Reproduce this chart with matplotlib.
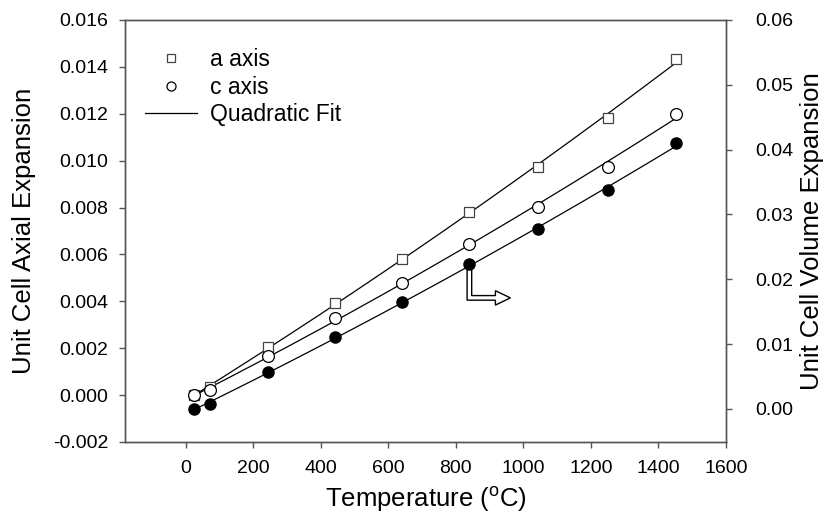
import matplotlib
matplotlib.use("Agg")
import matplotlib.pyplot as plt
import numpy as np
from matplotlib.lines import Line2D
from matplotlib.patches import Polygon
from matplotlib.transforms import Affine2D, ScaledTranslation

plt.rcParams['font.family'] = ['Liberation Sans', 'DejaVu Sans']
plt.rcParams['mathtext.fontset'] = 'custom'
plt.rcParams['mathtext.rm'] = 'Liberation Sans'

# data
temp = np.array([25, 73, 245, 442, 640, 840, 1042, 1251, 1452])
a_axis = np.array([0.0000, 0.00035, 0.00204, 0.00394, 0.00582, 0.00781, 0.00975, 0.01184, 0.01432])
c_axis = np.array([0.0000, 0.00020, 0.00168, 0.00330, 0.00480, 0.00643, 0.00804, 0.00975, 0.01200])
volume = np.array([0.0000, 0.0008, 0.0057, 0.0111, 0.0165, 0.0223, 0.0277, 0.0337, 0.0410])

x_ticks = np.arange(0, 1601, 200)
left_ticks = np.arange(-0.002, 0.0161, 0.002)
right_ticks = np.arange(0.0, 0.061, 0.01)

W, H = 826, 526
fig = plt.figure(figsize=(W / 100, H / 100), dpi=100)
ax = fig.add_axes([125 / W, 1 - 442 / H, (726 - 125) / W, (442 - 20) / H])
ax2 = ax.twinx()

spine_col = '#555555'
fs_tick = 14
fs_lab = 18.5
fs_leg = 16.5

def quad_fit(x, y):
    p = np.polyfit(x, y, 2)
    xs = np.linspace(x.min(), x.max(), 200)
    return xs, np.polyval(p, xs)

# fitted curves
for y in (a_axis, c_axis):
    xs, ys = quad_fit(temp, y)
    ax.plot(xs, ys, color='black', lw=0.9, zorder=2)
xs, ys = quad_fit(temp, volume)
ax2.plot(xs, ys, color='black', lw=0.9, zorder=2)

# points
ax.plot(temp, a_axis, ls='none', marker='s', ms=7.5, mfc='white', mec='#444444', mew=0.9, zorder=3)
ax.plot(temp, c_axis, ls='none', marker='o', ms=8.5, mfc='white', mec='black', mew=0.9, zorder=3)
ax2.plot(temp, volume, ls='none', marker='o', ms=8, mfc='black', mec='black', zorder=4)

ax.set_xlim(-180, 1600)
ax.set_ylim(-0.002, 0.016)
ax2.set_ylim(-0.0051, 0.06)
ax.set_xticks(x_ticks)
ax.set_yticks(left_ticks)
ax2.set_yticks(right_ticks)
ax.set_yticklabels(['%.3f' % v for v in left_ticks])
ax2.set_yticklabels(['%.2f' % v for v in right_ticks])

for a in (ax, ax2):
    for s in a.spines.values():
        s.set_color(spine_col)
        s.set_linewidth(1.0)
    a.tick_params(direction='out', length=4, width=1.0, color=spine_col,
                  labelsize=fs_tick)
ax.tick_params(axis='x', pad=9)
ax.tick_params(axis='y', pad=8)
ax2.tick_params(axis='y', pad=17)

ax.set_xlabel(r'Temperature ($\mathregular{^{o}}$C)', fontsize=fs_lab, labelpad=6)
ax.set_ylabel('Unit Cell Axial Expansion', fontsize=fs_lab, labelpad=12)
ax2.set_ylabel('Unit Cell Volume Expansion', fontsize=fs_lab, labelpad=5)

# hollow L-shaped arrow pointing from the volume point to the right axis
arrow_px = np.array([(-2.3, 0), (2.3, 0), (2.3, -31.2), (26, -31.2), (26, -26.3),
                     (41, -33.5), (26, -40.7), (26, -35.8), (-2.3, -35.8)])
trans = Affine2D().scale(1 / 100) + fig.dpi_scale_trans + \
    ScaledTranslation(temp[5], volume[5], ax2.transData)
ax2.add_patch(Polygon(arrow_px, closed=True, fc='white', ec='black', lw=1.0,
                      transform=trans, zorder=3, clip_on=False))

handles = [
    Line2D([], [], ls='none', marker='s', ms=6, mfc='white', mec='#444444', mew=0.9),
    Line2D([], [], ls='none', marker='o', ms=6.5, mfc='white', mec='black', mew=0.9),
    Line2D([], [], color='black', lw=0.9),
]
leg = ax.legend(handles, ['a axis', 'c axis', 'Quadratic Fit'], loc='upper left',
                bbox_to_anchor=(0.033, 0.933), frameon=False, fontsize=fs_leg,
                handlelength=2.27, handletextpad=0.57, labelspacing=0.19,
                borderaxespad=0, borderpad=0)

fig.savefig('out.png', dpi=100)
